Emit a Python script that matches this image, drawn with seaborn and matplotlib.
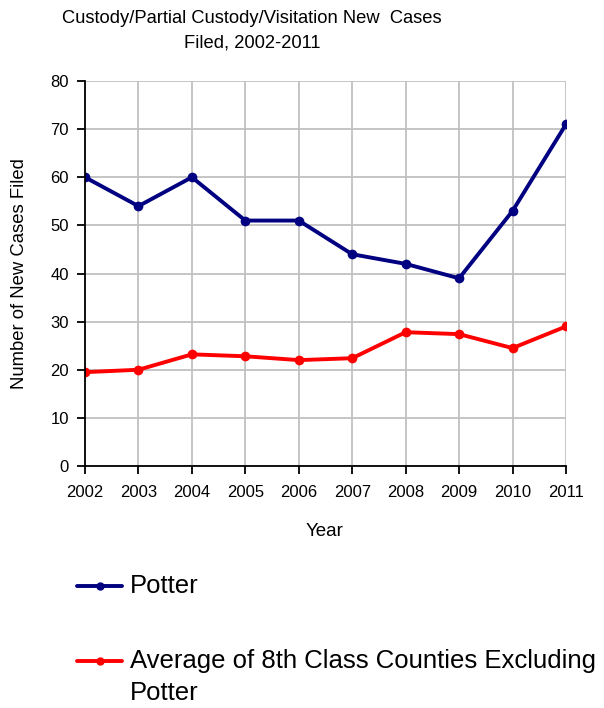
import numpy as np
import pandas as pd
import matplotlib
matplotlib.use('Agg')
import matplotlib.pyplot as plt
import seaborn as sns

# data
years = [2002, 2003, 2004, 2005, 2006, 2007, 2008, 2009, 2010, 2011]
potter = [60, 54, 60, 51, 51, 44, 42, 39, 53, 71]
avg_8th = [19.5, 20, 23.2, 22.8, 22, 22.4, 27.8, 27.4, 24.5, 29]
series_names = ['Potter', 'Average of 8th Class Counties Excluding\nPotter']
series_colors = ['#000080', '#ff0000']

df = pd.DataFrame({
    'Year': years * 2,
    'Cases': potter + avg_8th,
    'Series': [series_names[0]] * len(years) + [series_names[1]] * len(years),
})

sns.set_style('white')
plt.rcParams['font.family'] = ['Liberation Sans', 'DejaVu Sans']
plt.rcParams['text.color'] = 'black'
plt.rcParams['axes.labelcolor'] = 'black'
plt.rcParams['xtick.color'] = 'black'
plt.rcParams['ytick.color'] = 'black'

W, H = 604, 708
fig = plt.figure(figsize=(W / 100, H / 100), dpi=100)
ax = fig.add_axes([85 / W, 1 - 466 / H, 481 / W, 385 / H])

sns.lineplot(data=df, x='Year', y='Cases', hue='Series',
             palette=dict(zip(series_names, series_colors)),
             marker='o', markersize=7, markeredgewidth=0, linewidth=2.8,
             ax=ax, legend=False)

ax.set_xlim(2002, 2011)
ax.set_ylim(0, 80)
ax.set_xticks(years)
ax.set_yticks(np.arange(0, 81, 10))
ax.tick_params(axis='x', labelsize=12, direction='out', length=5.5, width=1.3,
               pad=8, bottom=True)
ax.tick_params(axis='y', labelsize=12, direction='out', length=5.5, width=1.3,
               pad=6, left=True)
ax.grid(True, color='#c0c0c0', linewidth=1.3)
for s in ['top', 'right']:
    ax.spines[s].set_visible(False)
for s in ['left', 'bottom']:
    ax.spines[s].set_color('black')
    ax.spines[s].set_linewidth(1.3)
    ax.spines[s].set_zorder(3)

ax.set_xlabel('Year', fontsize=13.5)
ax.xaxis.set_label_coords((325 - 85) / 481, -(531 - 466) / 385)
ax.xaxis.label.set_va('center')
ax.set_ylabel('Number of New Cases Filed', fontsize=13.3)
ax.yaxis.set_label_coords(-(85 - 20) / 481, 0.5)
ax.yaxis.label.set_va('center')

fig.text(252 / W, 1 - 31 / H,
         'Custody/Partial Custody/Visitation New  Cases\nFiled, 2002-2011',
         ha='center', va='center', fontsize=13.2, linespacing=1.55)

# legend drawn below the plot, handle aligned with first line of each label
entry_y = [586, 661]
for name, color, y in zip(series_names, series_colors, entry_y):
    fig.add_artist(plt.Line2D([77 / W, 122 / W], [1 - y / H, 1 - y / H],
                              transform=fig.transFigure, color=color,
                              linewidth=2.8))
    fig.add_artist(plt.Line2D([99.5 / W], [1 - y / H], transform=fig.transFigure,
                              color=color, marker='o', markersize=6,
                              markeredgewidth=0))
    for i, line in enumerate(name.split('\n')):
        fig.text(130 / W, 1 - (y + i * 32) / H, line, ha='left', va='center',
                 fontsize=18.5)

fig.savefig('out.png', dpi=100)
